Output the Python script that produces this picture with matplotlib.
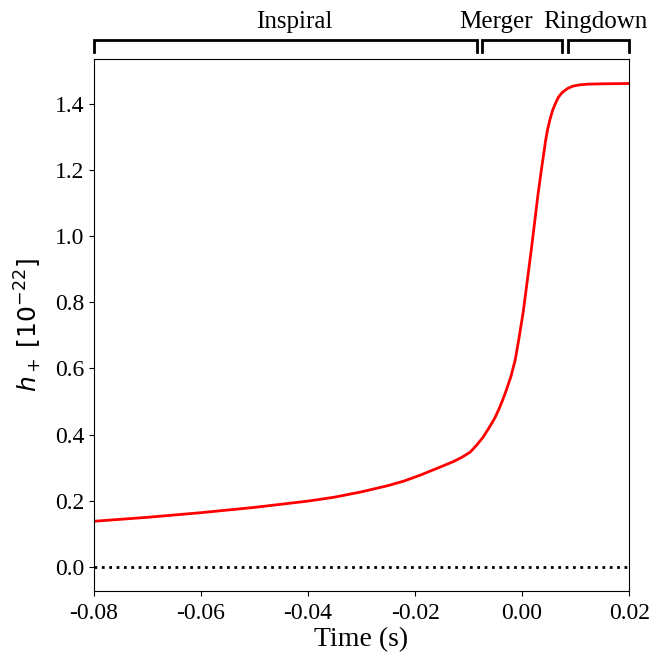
import numpy as np
import matplotlib.pyplot as plt

# waveform amplitude
time = [-0.08, -0.07, -0.06, -0.05, -0.04, -0.035, -0.03, -0.025, -0.022,
        -0.0191, -0.0159, -0.0129, -0.0113, -0.0097, -0.0085, -0.0073,
        -0.0062, -0.0051, -0.0043, -0.0036, -0.0030, -0.0021, -0.0013,
        -0.0006, 0.0002, 0.0009, 0.0017, 0.0024, 0.0030, 0.0036, 0.0040,
        0.0044, 0.0048, 0.0052, 0.0057, 0.0062, 0.0068, 0.0075, 0.0085,
        0.0095, 0.0108, 0.0123, 0.015, 0.02]
h_plus = [0.138, 0.150, 0.164, 0.180, 0.199, 0.211, 0.227, 0.246, 0.260,
          0.277, 0.298, 0.318, 0.331, 0.347, 0.368, 0.392,
          0.420, 0.450, 0.478, 0.506, 0.532, 0.575, 0.625,
          0.690, 0.770, 0.857, 0.957, 1.050, 1.130, 1.200, 1.245,
          1.290, 1.325, 1.352, 1.380, 1.400, 1.420, 1.434, 1.446,
          1.453, 1.457, 1.459, 1.460, 1.461]

phases = ['Inspiral', 'Merger', 'Ringdown']
phase_start = [-0.08, -0.0075, 0.0085]
phase_end = [-0.0085, 0.0075, 0.02]
label_x = [-0.0425, -0.0049, 0.0137]

plt.rc('font', family='Liberation Serif', size=17)
plt.rc('axes', unicode_minus=False)
plt.rc('mathtext', fontset='dejavusans')

fig, ax = plt.subplots(figsize=(6.52, 6.59), dpi=100)

ax.plot(time, h_plus, color='red', lw=2)
ax.axhline(0, color='black', ls=':', lw=2)

ax.set_xlim(-0.08, 0.02)
ax.set_xticks([-0.08, -0.06, -0.04, -0.02, 0.0, 0.02])
ax.set_xticklabels(['-0.08', '-0.06', '-0.04', '-0.02', '0.00', '0.02'])
ax.tick_params(axis='x', pad=5)
ax.set_xlabel('Time (s)', fontsize=20, labelpad=2)
ax.set_ylabel(r'$h_+\;[10^{-22}]$', fontsize=18, labelpad=8)

# phase brackets above the axes
trans = ax.get_xaxis_transform()
for name, a, b, lx in zip(phases, phase_start, phase_end, label_x):
    ax.plot([a, a, b, b], [1.013, 1.036, 1.036, 1.013], color='black', lw=2,
            transform=trans, clip_on=False, solid_joinstyle='miter')
    ax.text(lx, 1.05, name, transform=trans, ha='center', va='bottom',
            fontsize=18)

fig.subplots_adjust(left=0.144, right=0.965, top=0.910, bottom=0.103)
plt.savefig('out.png')
